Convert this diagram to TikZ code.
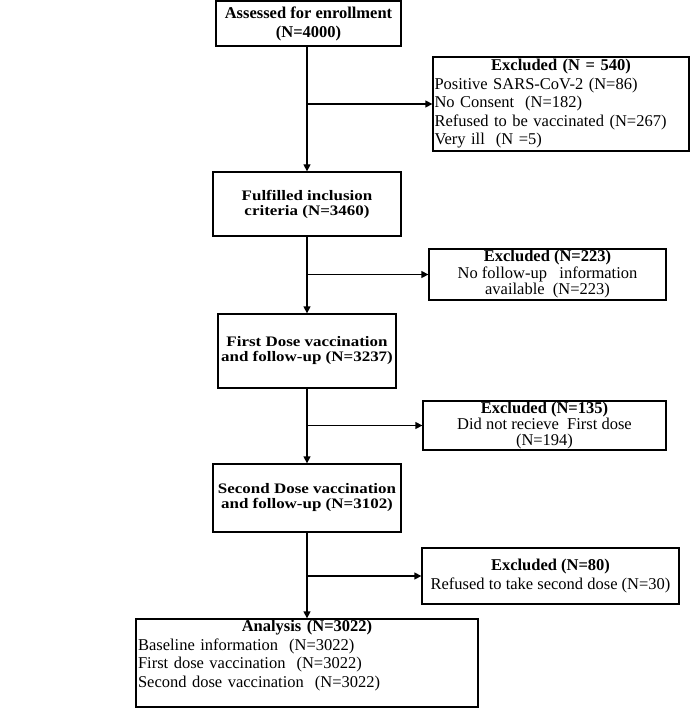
\documentclass[tikz,border=0pt]{standalone}
\usepackage{fontspec}
\setmainfont{Liberation Serif}
\newfontfamily\widebf{Liberation Serif}[FakeStretch=1.17]
\usetikzlibrary{arrows.meta}

\begin{document}
\begin{tikzpicture}[x=1pt,y=-1pt,
	box/.style={draw,line width=1.3pt,inner sep=0pt,align=center,
		font=\fontsize{16.5}{18.5}\selectfont},
	wide/.style={box,font=\widebf\bfseries\fontsize{14.5}{15}\selectfont},
	arr/.style={line width=1.3pt,-{Triangle[length=7pt,width=7pt]}}]
	\useasboundingbox (0,0) rectangle (691,708);

	% main column
	\node[box,minimum width=185pt,minimum height=45pt,font=\bfseries\fontsize{16.5}{19}\selectfont] (assess) at (308.5,23.5) {Assessed for enrollment\\(N=4000)};
	\node[wide,minimum width=188pt,minimum height=64pt] (incl) at (307,204) {Fulfilled inclusion\\criteria (N=3460)};
	\node[wide,minimum width=178pt,minimum height=74pt] (dose1) at (307,351) {First Dose vaccination\\and follow-up (N=3237)};
	\node[wide,minimum width=188pt,minimum height=68pt] (dose2) at (307,498) {Second Dose vaccination\\and follow-up (N=3102)};
	\node[box,minimum width=342pt,minimum height=88pt,text width=338pt,align=left] (analysis) at (307,663)
		{\makebox[\linewidth]{\textbf{Analysis (N=3022)}}\\Baseline information\ \ (N=3022)\\First\ dose vaccination\ \ (N=3022)\\Second dose vaccination\ \ (N=3022)\\\mbox{}};

	% excluded boxes
	\node[box,minimum width=256pt,minimum height=94pt,text width=253pt,align=left] (ex1) at (561,104)
		{\makebox[\linewidth]{\textbf{Excluded (N = 540)}}\\Positive SARS-CoV-2 (N=86)\\No Consent\ \ (N=182)\\Refused to be vaccinated (N=267)\\Very ill\ \ (N =5)};
	\node[box,minimum width=237pt,minimum height=51pt,font=\fontsize{16.5}{16.5}\selectfont] (ex2) at (547.5,274.5) {\textbf{Excluded (N=223)}\\No follow-up\ \ \ information\\available\ \ (N=223)};
	\node[box,minimum width=243pt,minimum height=49pt,font=\fontsize{16.5}{16}\selectfont] (ex3) at (544.5,425.5) {\textbf{Excluded (N=135)}\\Did not recieve\ \ First dose\\(N=194)};
	\node[box,minimum width=257pt,minimum height=56pt] (ex4) at (550.5,576) {\textbf{Excluded (N=80)}\\Refused to take second dose (N=30)};

	% connectors
	\draw[arr] (incl.north |- assess.south) -- (incl.north);
	\draw[arr] (incl.north |- ex1.west) -- (ex1.west);
	\draw[arr] (incl.south) -- (dose1.north);
	\draw[arr] (incl.south |- ex2.west) -- (ex2.west);
	\draw[arr] (dose1.south) -- (dose2.north);
	\draw[arr] (dose1.south |- ex3.west) -- (ex3.west);
	\draw[arr] (dose2.south) -- (analysis.north);
	\draw[arr] (dose2.south |- ex4.west) -- (ex4.west);
\end{tikzpicture}
\end{document}
